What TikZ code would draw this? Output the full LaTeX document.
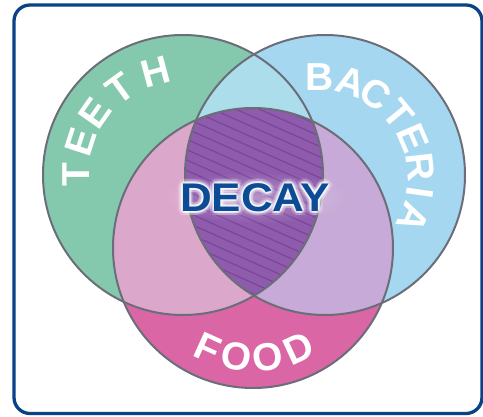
\documentclass[tikz,border=0pt]{standalone}
\usepackage{fontspec}
\setmainfont{Liberation Sans}
\usepackage{tikz}
\usetikzlibrary{calc,fadings}
\definecolor{FrameBlue}{HTML}{0A4288}
\definecolor{DecayBlue}{HTML}{0C4C97}
\definecolor{TeethGreen}{HTML}{84C9AD}
\definecolor{BactBlue}{HTML}{A5D7F0}
\definecolor{FoodPink}{HTML}{DA66A6}
\definecolor{TBmix}{HTML}{ABDDEA}
\definecolor{TFmix}{HTML}{DBA7CB}
\definecolor{BFmix}{HTML}{C7AAD7}
\definecolor{CoreViolet}{HTML}{8E5BAD}
\definecolor{StripeViolet}{HTML}{7A4798}
\definecolor{RingGrey}{HTML}{6B6E78}
\tikzfading[name=glowfade, inner color=transparent!0, outer color=transparent!100]
\tikzset{
  venn/frame/.style={draw=FrameBlue, line width=3.3pt, rounded corners=16pt},
  venn/ring/.style={draw=RingGrey, line width=2pt},
  venn/letter/.style={text=white, font=\fontsize{39}{39}\selectfont\bfseries, inner sep=0pt},
  venn/stripe/.style={draw=StripeViolet, line width=1.2pt},
  venn/title/.style={text=DecayBlue, font=\fontsize{40}{40}\selectfont\bfseries, inner sep=0pt, xscale=1.1},
  venn/glow/.style={venn/title, text=white},
  venn/haze/.style={fill=white, path fading=glowfade}
}

\begin{document}
\begin{tikzpicture}[x=1pt, y=1pt]
\useasboundingbox (0,0) rectangle (483,416);

\coordinate (teeth) at (183,241);
\coordinate (bact) at (325,241);
\coordinate (food) at (253,168);
\coordinate (core) at (254,226);
\def\teethdisc{(teeth) circle (140)}
\def\bactdisc{(bact) circle (140)}
\def\fooddisc{(food) circle (140)}

% the three sets
\fill[TeethGreen] \teethdisc;
\fill[BactBlue] \bactdisc;
\fill[FoodPink] \fooddisc;

% pairwise overlaps
\begin{scope}
  \clip \teethdisc;
  \fill[TBmix] \bactdisc;
  \fill[TFmix] \fooddisc;
\end{scope}
\begin{scope}
  \clip \bactdisc;
  \fill[BFmix] \fooddisc;
\end{scope}

% all three: hatched core
\begin{scope}
  \clip \teethdisc;
  \clip \bactdisc;
  \clip \fooddisc;
  \fill[CoreViolet] \fooddisc;
  \begin{scope}[rotate around={-24:(core)}]
    \foreach \k in {-14,...,14}
      \draw[venn/stripe] (114,{226+\k*9.5}) -- (394,{226+\k*9.5});
  \end{scope}
\end{scope}

\draw[venn/ring] \teethdisc;
\draw[venn/ring] \bactdisc;
\draw[venn/ring] \fooddisc;

% curved set names, one letter at a time
\foreach \ch/\ang [count=\i] in {T/180,E/162,E/145,T/126,H/105}
  \node[venn/letter, rotate=\ang-90] (teeth-\i) at ($(teeth)+(\ang:107)$) {\ch};
\foreach \ch/\ang [count=\i] in {B/90,A/72.3,C/56.6,T/39.5,E/23.3,R/6.4,I/-8.2,A/-23.3}
  \node[venn/letter, rotate=\ang-90] (bact-\i) at ($(320,238)+(\ang:101)$) {\ch};
\foreach \ch/\ang [count=\i] in {F/245.6,O/261.3,O/277.9,D/294.7}
  \node[venn/letter, rotate=\ang+90] (food-\i) at ($(food)+(\ang:110)$) {\ch};

% centre label with a soft white glow
\fill[venn/haze, opacity=.35] (255,218.5) ellipse (95 and 26);
\foreach \a in {0,30,...,330}
  \node[venn/glow, opacity=.15] (glowb-\a) at ($(255,218.5)+(\a:4.5)$) {DECAY};
\foreach \a in {0,30,...,330}
  \node[venn/glow, opacity=.3] (glowa-\a) at ($(255,218.5)+(\a:2)$) {DECAY};
\node[venn/title] (decay) at (255,218.5) {DECAY};

\draw[venn/frame] (14,2.5) rectangle (482,411);
\end{tikzpicture}
\end{document}
